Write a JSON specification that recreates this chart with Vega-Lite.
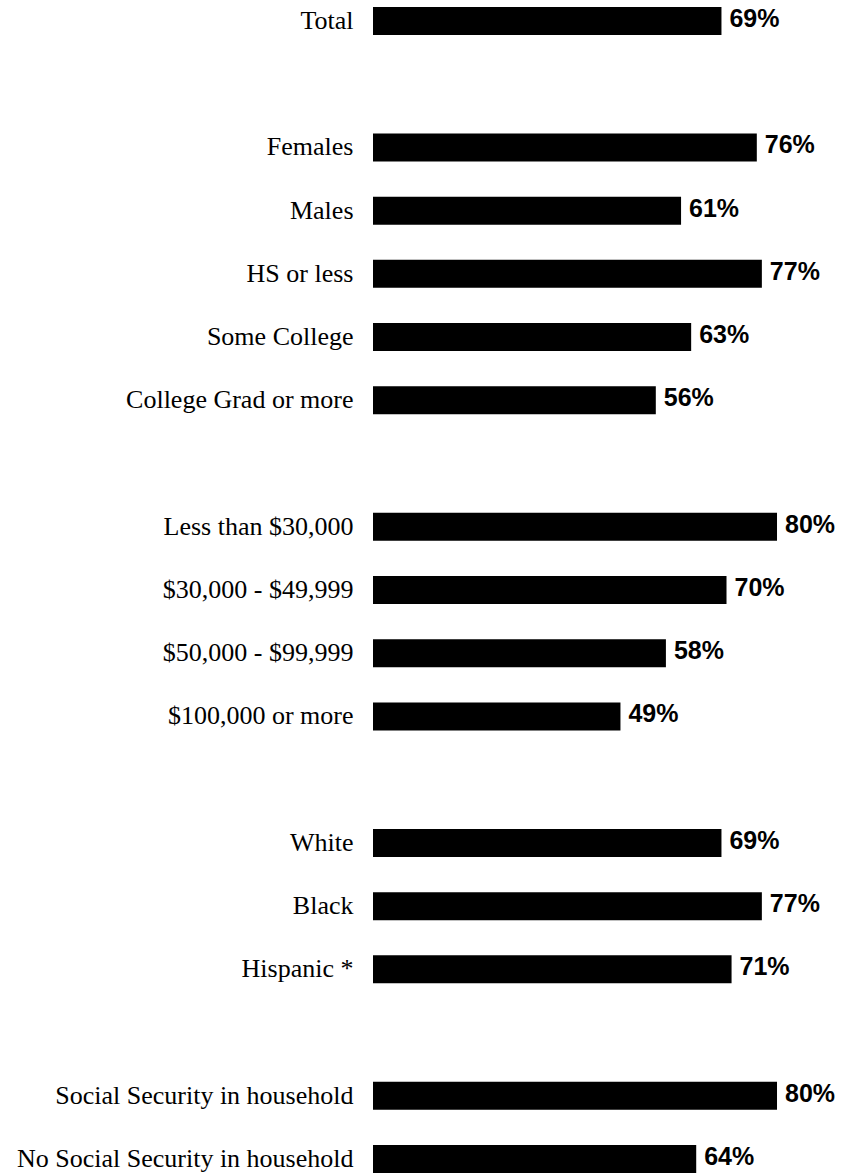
{
  "$schema": "https://vega.github.io/schema/vega-lite/v6.json",
  "width": 468,
  "height": 1180,
  "autosize": "none",
  "padding": {"left": 373, "top": 0, "right": 0, "bottom": 0},
  "background": "white",
  "config": {"view": {"stroke": null}},
  "data": {
    "values": [
      {"group": "Total", "share": 0.69},
      {"group": "Females", "share": 0.76},
      {"group": "Males", "share": 0.61},
      {"group": "HS or less", "share": 0.77},
      {"group": "Some College", "share": 0.63},
      {"group": "College Grad or more", "share": 0.56},
      {"group": "Less than $30,000", "share": 0.80},
      {"group": "$30,000 - $49,999", "share": 0.70},
      {"group": "$50,000 - $99,999", "share": 0.58},
      {"group": "$100,000 or more", "share": 0.49},
      {"group": "White", "share": 0.69},
      {"group": "Black", "share": 0.77},
      {"group": "Hispanic *", "share": 0.71},
      {"group": "Social Security in household", "share": 0.80},
      {"group": "No Social Security in household", "share": 0.64}
    ]
  },
  "encoding": {
    "y": {
      "field": "group",
      "type": "nominal",
      "sort": null,
      "scale": {
        "domain": ["Total", "gap1", "Females", "Males", "HS or less", "Some College", "College Grad or more", "gap2", "Less than $30,000", "$30,000 - $49,999", "$50,000 - $99,999", "$100,000 or more", "gap3", "White", "Black", "Hispanic *", "gap4", "Social Security in household", "No Social Security in household"],
        "paddingInner": 0.557,
        "paddingOuter": 0.11
      },
      "axis": {
        "title": null,
        "domain": false,
        "ticks": false,
        "tickSize": 0,
        "labelPadding": 20,
        "labelFont": "Liberation Serif",
        "labelFontSize": 26,
        "labelColor": "black",
        "labelLimit": 400,
        "labelExpr": "indexof(datum.value, 'gap') == 0 ? '' : datum.value"
      }
    },
    "x": {
      "field": "share",
      "type": "quantitative",
      "scale": {"domain": [0, 0.9267], "nice": false},
      "axis": null
    }
  },
  "layer": [
    {"mark": {"type": "bar", "color": "black"}},
    {
      "mark": {"type": "text", "align": "left", "baseline": "middle", "dx": 8, "dy": -2, "font": "Liberation Sans", "fontWeight": "bold", "fontSize": 25, "color": "black"},
      "encoding": {"text": {"field": "share", "type": "quantitative", "format": ".0%"}}
    }
  ]
}
